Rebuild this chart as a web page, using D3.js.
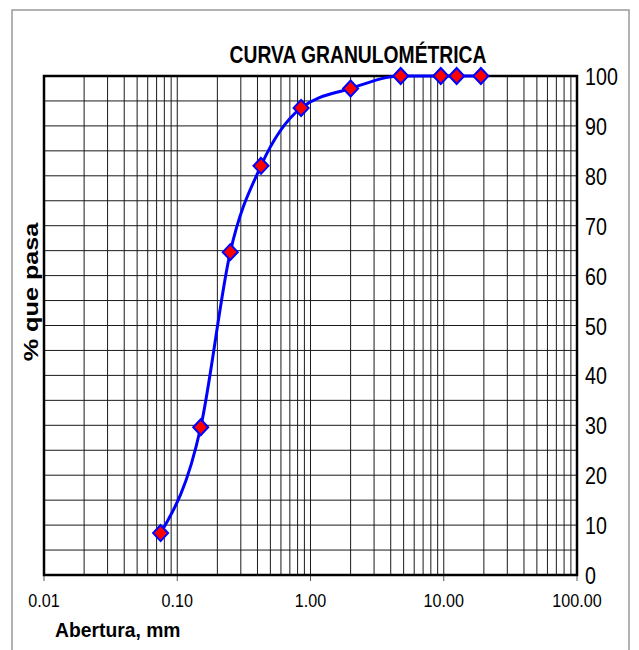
<!DOCTYPE html>
<html>
<head>
<meta charset="utf-8">
<script src="https://cdn.jsdelivr.net/npm/d3@7/dist/d3.min.js"></script>
<style>
  html, body { margin: 0; padding: 0; background: #fff; }
  svg { display: block; }
  text { font-family: "Liberation Sans", Arial, sans-serif; fill: #000; }
</style>
</head>
<body>
<svg id="chart" width="639" height="650"></svg>
<script>
// ---- data ----
const aberturas = [0.075, 0.15, 0.25, 0.425, 0.85, 2.0, 4.75, 9.5, 12.5, 19.0];
const pasa = [8.4, 29.6, 64.7, 82.0, 93.6, 97.5, 100, 100, 100, 100];
const xTickLabels = ["0.01", "0.10", "1.00", "10.00", "100.00"];
const xTickValues = [0.01, 0.1, 1, 10, 100];
const yTickValues = [0, 10, 20, 30, 40, 50, 60, 70, 80, 90, 100];
const title = "CURVA GRANULOMÉTRICA";
const xTitle = "Abertura, mm";
const yTitle = "% que pasa";

// ---- layout ----
const L = 44, R = 577, T = 76, B = 575;

const svg = d3.select("#chart");

// outer frame
svg.append("rect").attr("x", 12).attr("y", 10).attr("width", 617).attr("height", 660)
  .attr("fill", "none").attr("stroke", "#9a9a9a").attr("stroke-width", 1.5);

const x = d3.scaleLog().domain([0.01, 100]).range([L, R]);
const y = d3.scaleLinear().domain([0, 100]).range([B, T]);

// minor vertical grid
const vgrid = [];
[0.01, 0.1, 1, 10].forEach(d => { for (let k = 1; k <= 9; k++) vgrid.push(d * k); });
vgrid.push(100);
svg.append("g").selectAll("line").data(vgrid).join("line")
  .attr("x1", d => x(d)).attr("x2", d => x(d))
  .attr("y1", T).attr("y2", B)
  .attr("stroke", "#1a1a1a").attr("stroke-width", 1);

// horizontal grid every 5
const hgrid = d3.range(0, 101, 5);
svg.append("g").selectAll("line").data(hgrid).join("line")
  .attr("x1", L).attr("x2", R)
  .attr("y1", d => y(d)).attr("y2", d => y(d))
  .attr("stroke", "#1a1a1a").attr("stroke-width", 1);

// decade ticks below
svg.append("g").selectAll("line").data(xTickValues).join("line")
  .attr("x1", d => x(d)).attr("x2", d => x(d))
  .attr("y1", B).attr("y2", B + 6)
  .attr("stroke", "#555").attr("stroke-width", 1);

// plot border
svg.append("rect").attr("x", L).attr("y", T).attr("width", R - L).attr("height", B - T)
  .attr("fill", "none").attr("stroke", "#000").attr("stroke-width", 2.5);

// helper for compressed text
function txt(str, tx, ty, size, weight, anchor, sx, sy, rot) {
  const g = svg.append("g").attr("transform",
    `translate(${tx},${ty})` + (rot ? ` rotate(${rot})` : "") + ` scale(${sx},${sy || 1})`);
  g.append("text").attr("x", 0).attr("y", 0)
    .attr("font-size", size).attr("font-weight", weight)
    .attr("text-anchor", anchor).text(str);
}

// x tick labels
xTickValues.forEach((v, i) => txt(xTickLabels[i], x(v), 607, 19, "normal", "middle", 0.85));

// y tick labels (right)
yTickValues.forEach(v => txt(String(v), R + 8, y(v) + 9, 24, "normal", "start", 0.82));

// titles
txt(title, 358, 63, 23, "bold", "middle", 0.84);
txt(xTitle, 55, 637, 21, "bold", "start", 0.92);
txt(yTitle, 38, 292, 21, "bold", "middle", 1.2, 1, -90);

// curve
const pts = aberturas.map((a, i) => [a, pasa[i]]);
const line = d3.line().x(d => x(d[0])).y(d => y(d[1])).curve(d3.curveMonotoneX);
svg.append("path").datum(pts).attr("d", line)
  .attr("fill", "none").attr("stroke", "#0000ff").attr("stroke-width", 3);

// markers
svg.append("g").selectAll("path").data(pts).join("path")
  .attr("d", d => {
    const cx = x(d[0]), cy = y(d[1]), rx = 7.5, ry = 8;
    return `M${cx},${cy - ry}L${cx + rx},${cy}L${cx},${cy + ry}L${cx - rx},${cy}Z`;
  })
  .attr("fill", "#ff0000").attr("stroke", "#0000ff").attr("stroke-width", 2);
</script>
</body>
</html>
